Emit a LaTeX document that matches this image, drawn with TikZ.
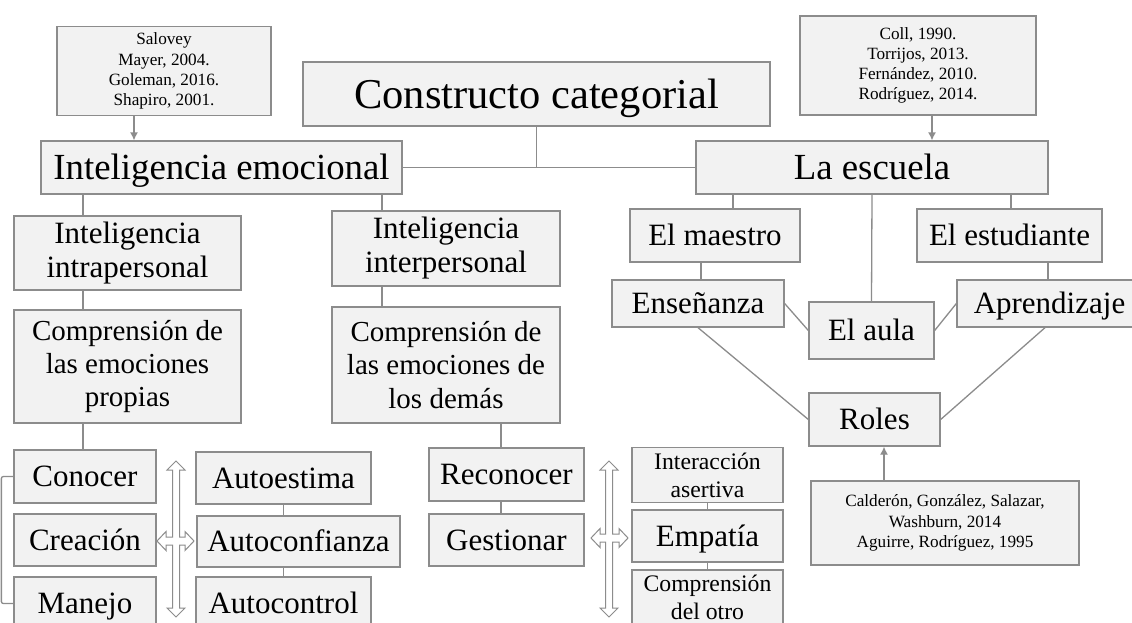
\documentclass[tikz,border=0pt]{standalone}
\usepackage{fontspec}
\setmainfont{Liberation Serif}
\usetikzlibrary{arrows.meta}

\definecolor{boxfill}{RGB}{242,242,242}
\definecolor{boxline}{RGB}{140,140,140}

\tikzset{
    box/.style={draw=boxline, fill=boxfill, line width=1.3pt, inner sep=0pt, align=center},
    conn/.style={draw=boxline, line width=1.3pt},
    arr/.style={-{Latex[length=8pt,width=8pt]}},
    arrowline/.style={draw=boxline, line width=1pt, fill=white, line join=miter},
    title/.style={font=\fontsize{42.5}{48}\selectfont, text height=34pt, text depth=6pt},
    big/.style={font=\fontsize{36.8}{41}\selectfont, text height=30pt, text depth=6pt},
    mid/.style={font=\fontsize{31}{34}\selectfont, text height=26pt, text depth=5.5pt},
    midtwo/.style={font=\fontsize{31}{34}\selectfont},
    comp/.style={font=\fontsize{29}{33.3}\selectfont},
    small/.style={font=\fontsize{23.7}{28}\selectfont},
    cite/.style={font=\fontsize{17.2}{20.2}\selectfont},
}

% hollow four-way arrow: cx, cy, top, bottom, left, right
\newcommand{\crossarrow}[6]{%
    \draw[arrowline] (#1,#3) -- ({#1+9},{#3+9}) -- ({#1+3.5},{#3+9})
        -- ({#1+3.5},{#2-4}) -- ({#6-9},{#2-4}) -- ({#6-9},{#2-9.5}) -- (#6,#2)
        -- ({#6-9},{#2+9.5}) -- ({#6-9},{#2+4}) -- ({#1+3.5},{#2+4})
        -- ({#1+3.5},{#4-9}) -- ({#1+9},{#4-9}) -- (#1,#4)
        -- ({#1-9},{#4-9}) -- ({#1-3.5},{#4-9}) -- ({#1-3.5},{#2+4})
        -- ({#5+9},{#2+4}) -- ({#5+9},{#2+9.5}) -- (#5,#2)
        -- ({#5+9},{#2-9.5}) -- ({#5+9},{#2-4}) -- ({#1-3.5},{#2-4})
        -- ({#1-3.5},{#3+9}) -- ({#1-9},{#3+9}) -- cycle;}

\begin{document}
\begin{tikzpicture}[x=1pt, y=-1pt]
    \useasboundingbox (0,0) rectangle (1132,622);
    \fill[white] (0,0) rectangle (1132,622);
    \clip (0,0) rectangle (1132,622);

    % top
    \node[box, title, minimum width=467pt, minimum height=64pt] (constructo) at (536.5,94) {Constructo categorial};
    \node[box, cite, minimum width=214pt, minimum height=89pt] (salovey) at (164,71)
        {Salovey\\Mayer, 2004.\\Goleman, 2016.\\Shapiro, 2001.};
    \node[box, cite, minimum width=236pt, minimum height=99pt] (coll) at (918,65.5)
        {Coll, 1990.\\Torrijos, 2013.\\Fernández, 2010.\\Rodríguez, 2014.};
    \node[box, big, minimum width=361pt, minimum height=53pt] (ie) at (221.5,167.5) {Inteligencia emocional};
    \node[box, big, minimum width=352pt, minimum height=53pt] (escuela) at (872,167.5) {La escuela};

    % inteligencia emocional
    \node[box, midtwo, minimum width=227pt, minimum height=74pt] (intra) at (127.5,253) {Inteligencia\\intrapersonal};
    \node[box, midtwo, minimum width=228pt, minimum height=75pt] (inter) at (446,248.5) {Inteligencia\\interpersonal};
    \node[box, comp, minimum width=227pt, minimum height=113pt] (comp1) at (127.5,366.5)
        {Comprensión de\\las emociones\\propias};
    \node[box, comp, minimum width=228pt, minimum height=116pt] (comp2) at (446,365)
        {Comprensión de\\las emociones de\\los demás};

    \node[box, mid, minimum width=142pt, minimum height=53pt] (conocer) at (85,476.5) {Conocer};
    \node[box, mid, minimum width=142pt, minimum height=52pt] (creacion) at (85,540) {Creación};
    \node[box, mid, minimum width=142pt, minimum height=53pt] (manejo) at (85,603.5) {Manejo};
    \node[box, mid, minimum width=175pt, minimum height=52pt] (autoestima) at (283.5,478) {Autoestima};
    \node[box, mid, minimum width=203pt, minimum height=51pt] (autoconfianza) at (298.5,541.5) {Autoconfianza};
    \node[box, mid, minimum width=175pt, minimum height=53pt] (autocontrol) at (283.5,603.5) {Autocontrol};

    \node[box, mid, minimum width=155pt, minimum height=53pt] (reconocer) at (506.5,474.5) {Reconocer};
    \node[box, mid, minimum width=155pt, minimum height=52pt] (gestionar) at (506.5,540) {Gestionar};
    \node[box, small, minimum width=151pt, minimum height=55pt] (interaccion) at (707.5,475) {Interacción\\asertiva};
    \node[box, mid, minimum width=151pt, minimum height=52pt] (empatia) at (707.5,536) {Empatía};
    \node[box, small, minimum width=151pt, minimum height=55pt] (delotro) at (707.5,597.5) {Comprensión\\del otro};

    % la escuela
    \node[box, mid, minimum width=170pt, minimum height=53pt] (maestro) at (715,235.5) {El maestro};
    \node[box, mid, minimum width=185pt, minimum height=53pt] (estudiante) at (1009.5,235.5) {El estudiante};
    \node[box, mid, minimum width=172pt, minimum height=47pt] (ensenanza) at (698,303.5) {Enseñanza};
    \node[box, mid, minimum width=125pt, minimum height=57pt] (aula) at (871.5,330.5) {El aula};
    \node[box, mid, minimum width=185pt, minimum height=47pt] (aprendizaje) at (1049.5,303.5) {Aprendizaje};
    \node[box, mid, minimum width=131pt, minimum height=53pt] (roles) at (874.5,419.5) {Roles};
    \node[box, cite, minimum width=268pt, minimum height=84pt] (calderon) at (945,523)
        {Calderón, González, Salazar,\\Washburn, 2014\\Aguirre, Rodríguez, 1995};

    % connectors
    \draw[conn] (ie.east) -- (escuela.west);
    \draw[conn] (constructo.south) -- (constructo.south |- ie.east);
    \draw[conn, arr] (salovey.south -| 134,0) -- (ie.north -| 134,0);
    \draw[conn, arr] (coll.south -| 932,0) -- (escuela.north -| 932,0);

    \draw[conn] (ie.south -| 83,0) -- (intra.north -| 83,0);
    \draw[conn] (intra.south -| 83,0) -- (comp1.north -| 83,0);
    \draw[conn] (comp1.south -| 83,0) -- (conocer.north -| 83,0);
    \draw[conn] (ie.south -| 382,0) -- (inter.north -| 382,0);
    \draw[conn] (inter.south -| 382,0) -- (comp2.north -| 382,0);
    \draw[conn] (comp2.south -| 501,0) -- (reconocer.north -| 501,0);
    \draw[conn] (reconocer.south -| 501,0) -- (gestionar.north -| 501,0);
    \draw[conn, rounded corners=2pt] (conocer.west) -- ++(-12,0) |- (manejo.west);
    \draw[conn] (autoestima.south) -- (autoconfianza.north -| autoestima.south);
    \draw[conn] (autoconfianza.south -| autoestima.south) -- (autocontrol.north);
    \draw[conn] (interaccion.south) -- (empatia.north);
    \draw[conn] (empatia.south) -- (delotro.north);

    \draw[conn] (escuela.south -| 733,0) -- (maestro.north -| 733,0);
    \draw[conn] (escuela.south) -- (aula.north);
    \draw[conn] (escuela.south -| 1011,0) -- (estudiante.north -| 1011,0);
    \draw[conn] (maestro.south -| 701,0) -- (ensenanza.north -| 701,0);
    \draw[conn] (estudiante.south -| 1048,0) -- (aprendizaje.north -| 1048,0);
    \draw[conn] (ensenanza.east) -- (aula.west);
    \draw[conn] (aprendizaje.west) -- (aula.east);
    \draw[conn] (ensenanza.south) -- (roles.west);
    \draw[conn] (aprendizaje.south -| 1045,0) -- (roles.east);
    \draw[conn, arr] (calderon.north -| 884,0) -- (roles.south -| 884,0);

    % hollow arrows
    \crossarrow{176}{541}{461}{617}{157}{194}
    \crossarrow{609}{538}{461}{617}{591}{628}
\end{tikzpicture}
\end{document}
